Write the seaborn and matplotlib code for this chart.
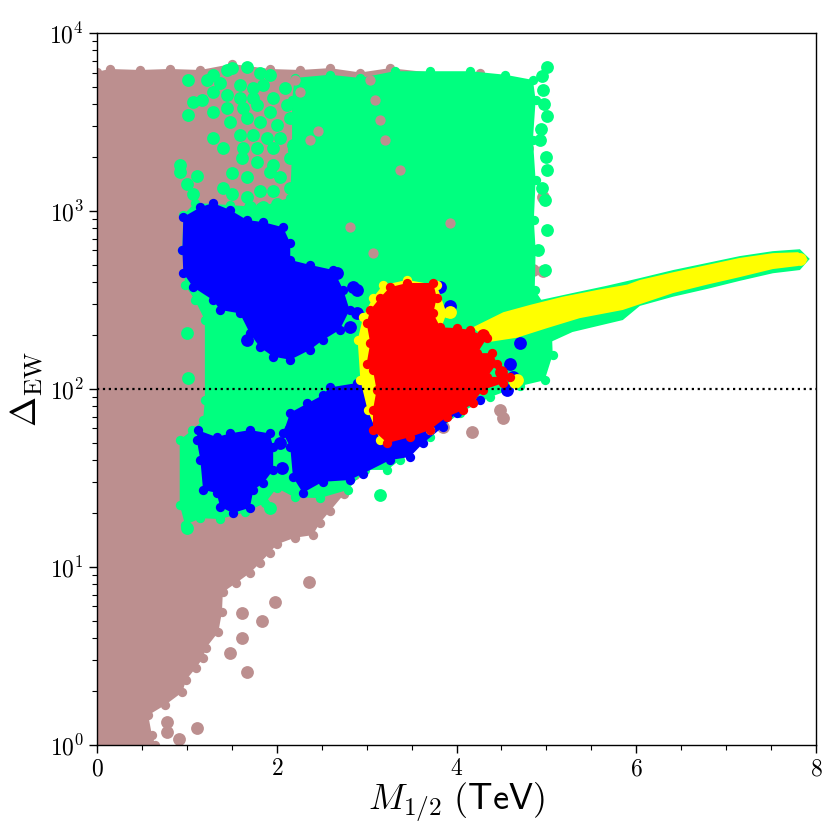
import matplotlib
matplotlib.use("Agg")
import matplotlib.pyplot as plt
import seaborn as sns
from matplotlib.ticker import MultipleLocator, LogLocator, NullFormatter

# populations: outline of each dense cloud (x in TeV, Delta_EW) plus loose points
brown_edge_x = [0.00, 0.65, 0.61, 0.57, 0.76, 0.95, 0.99, 1.10, 1.18, 1.21, 1.35, 1.39, 1.40, 1.55, 1.70,
                1.81, 1.92, 2.00, 2.20, 2.40, 2.48, 2.59, 2.75, 2.87, 3.37, 3.93, 4.15, 4.26, 3.70, 3.26,
                2.93, 2.59, 2.26, 1.92, 1.50, 1.15, 0.81, 0.48, 0.14, 0.00]
brown_edge_y = [1.00, 1.00, 1.14, 1.47, 1.68, 1.98, 2.32, 2.71, 3.08, 3.50, 4.31, 5.58, 7.22, 8.14, 9.24,
                10.5, 12.0, 13.4, 14.6, 15.1, 17.7, 20.6, 25.7, 33.0, 46.0, 72.0, 95.0, 6000, 6000, 6350,
                6000, 6350, 6200, 6280, 6700, 6200, 6280, 6200, 6280, 6050]
brown_pts_x = [0.78, 0.91, 1.11, 0.78, 1.67, 1.61, 1.84, 1.98, 1.61, 1.48, 2.36, 4.17, 3.85, 4.48, 4.52,
               4.96, 4.78, 4.40, 4.76, 4.85, 4.96]
brown_pts_y = [1.35, 1.08, 1.25, 1.18, 2.57, 5.50, 4.97, 6.35, 3.99, 3.29, 8.24, 57.4, 61.3, 76.2, 68.6,
               1200, 2270, 5220, 542, 466, 459]
# brown seen through gaps of the green cloud
brown_gap_x = [2.20, 2.26, 3.04, 3.09, 3.15, 3.20, 2.37, 2.46, 2.81, 3.07, 3.93, 3.37]
brown_gap_y = [5450, 4660, 5450, 4205, 3247, 2506, 2506, 2800, 810, 580, 860, 1700]

green_edge_x = [2.20, 2.59, 2.93, 3.31, 3.70, 4.15, 4.54, 4.85, 4.88, 4.85, 4.88, 4.86, 4.88, 4.87, 4.98,
                5.06, 5.07, 4.98, 4.71, 4.37, 4.04, 3.70, 3.37, 3.23, 2.98, 2.79, 2.48, 2.20, 2.00, 1.87,
                1.65, 1.37, 1.15, 0.98, 0.92, 0.92, 1.06, 1.18, 1.20, 1.20, 1.09, 0.98, 0.95, 0.96, 1.09,
                1.48, 1.81, 2.15, 2.17, 2.17]
green_edge_y = [5590, 5830, 5590, 6100, 6100, 6100, 5830, 5450, 4200, 2510, 1490, 890, 604, 360, 297,
                215, 156, 112, 104, 89.9, 73.6, 53.7, 39.9, 35.1, 35.1, 27.1, 24.4, 24.6, 27.8, 22.9,
                20.3, 18.6, 18.8, 17.2, 22.4, 51.7, 58.8, 66.9, 86.7, 244, 316, 383, 604, 950, 1110,
                1080, 1050, 1190, 2200, 4200]
# loose green points: mixed zone at upper left, strays, ragged right edge
green_pts_x = [1.01, 1.22, 1.29, 1.45, 1.50, 1.67, 1.81, 1.92, 1.85, 1.74, 1.59, 1.37, 1.29, 1.45, 1.59,
               1.74, 1.96, 2.09, 2.11, 1.92, 1.78, 1.62, 1.45, 1.29, 1.07, 1.01, 1.17, 1.48, 1.67, 1.81,
               2.00, 2.15, 1.74, 1.59, 1.89, 2.04, 1.29, 1.40, 1.62, 1.78, 1.96, 2.18, 1.61, 1.78, 1.96,
               2.15, 0.92, 0.92, 1.11, 1.00, 1.07, 1.50, 1.67, 1.92, 2.04, 1.40, 1.50, 1.67, 1.81, 1.96,
               2.15, 1.70, 1.85, 2.00,
               1.00, 1.01, 1.00, 3.15, 1.92,
               5.01, 4.96, 5.01, 4.93, 5.01, 4.98, 5.01, 4.91, 4.98, 4.95, 4.97, 4.94, 5.00, 4.95]
green_pts_y = [5450, 5450, 5810, 6200, 6320, 6430, 5960, 5810, 5100, 4900, 5100, 5240, 4660, 4480, 4300,
               4300, 4300, 4900, 3935, 3590, 3935, 3780, 3780, 3590, 4100, 3450, 4205, 3150, 3315, 3150,
               3030, 3315, 2670, 2670, 2570, 2570, 2570, 2265, 2265, 2265, 2265, 2350, 1990, 1890, 1820,
               1990, 1820, 1665, 1565, 1410, 1240, 1645, 1545, 1665, 1545, 1355, 1240, 1195, 1290, 1290,
               1355, 1050, 1050, 1095,
               206, 115, 16.5, 25.4, 21.4,
               6430, 4790, 3440, 2510, 1700, 1150, 782, 604, 466, 5700, 4000, 2900, 2000, 1350]

band_green_x = [4.93, 5.29, 5.67, 6.04, 6.41, 6.79, 7.15, 7.52, 7.82, 7.93, 7.82, 7.52, 7.15, 6.79, 6.41,
                6.04, 5.85, 5.29, 5.04]
band_green_y = [316, 346, 380, 420, 466, 511, 558, 595, 610, 538, 466, 447, 405, 365, 330,
                293, 244, 209, 183]
band_yellow_x = [4.18, 4.52, 4.82, 5.18, 5.56, 5.90, 6.04, 6.41, 6.79, 7.15, 7.52, 7.80, 7.91, 7.80, 7.52,
                 7.15, 6.79, 6.41, 5.85, 5.37, 5.01, 4.67, 4.37]
band_yellow_y = [222, 270, 297, 330, 360, 386, 410, 453, 498, 545, 580, 587, 531, 491, 472,
                 425, 386, 346, 278, 250, 220, 194, 184]

blue_a_x = [0.96, 1.15, 1.29, 1.48, 1.67, 1.85, 2.07, 2.15, 2.15, 2.37, 2.63, 2.74, 2.81, 2.70, 2.51,
            2.37, 2.15, 1.96, 1.81, 1.70, 1.59, 1.37, 1.29, 1.07, 0.96, 0.95]
blue_a_y = [925, 1050, 1110, 1013, 890, 866, 810, 660, 531, 498, 466, 360, 278, 215, 188,
            166, 146, 152, 172, 206, 266, 278, 316, 373, 448, 604]
blue_b_x = [1.12, 1.33, 1.48, 1.70, 1.92, 1.96, 1.96, 1.85, 1.74, 1.70, 1.51, 1.37, 1.33, 1.18, 1.15, 1.11]
blue_b_y = [58.8, 53.7, 56.3, 58.8, 56.3, 47.3, 35.1, 29.6, 27.1, 21.5, 20.1, 21.8, 26.1, 27.1, 39.9, 51.7]
blue_c_x = [2.07, 2.15, 2.34, 2.51, 2.59, 2.89, 3.04, 3.70, 4.26, 4.00, 3.85, 3.63, 3.48, 3.26, 2.96,
            2.81, 2.51, 2.29, 2.18, 2.15]
blue_c_y = [56.3, 73.6, 83.0, 92.3, 102, 108, 112, 86.7, 86.7, 73.6, 61.3, 49.7, 41.5, 39.9, 33.5,
            30.8, 30.1, 26.1, 32.0, 47.3]
blue_pts_x = [1.67, 2.85, 2.89, 2.81, 2.67, 2.89, 3.82, 3.93, 4.71, 4.59, 4.63, 4.56, 2.04, 2.15, 2.06]
blue_pts_y = [188, 373, 266, 222, 447, 360, 373, 292, 181, 139, 117, 98.7, 49.9, 58.8, 36.0]

yellow_core_x = [2.96, 3.07, 3.18, 3.45, 3.78, 3.89, 3.82, 3.70, 3.15, 3.01, 2.93, 2.90]
yellow_core_y = [254, 326, 383, 410, 383, 266, 215, 58.8, 51.7, 76.2, 112, 188]
yellow_pts_x = [4.67, 3.93, 4.65, 7.82]
yellow_pts_y = [112, 270, 109, 535]

red_edge_x = [3.04, 3.15, 3.26, 3.45, 3.74, 3.78, 3.74, 3.82, 4.00, 4.15, 4.34, 4.23, 4.40, 4.45, 4.34,
              4.59, 4.52, 4.29, 4.18, 4.07, 3.89, 3.70, 3.48, 3.23, 3.07, 3.07, 3.11, 3.07, 3.00, 3.04, 3.00]
red_edge_y = [278, 326, 373, 394, 394, 326, 266, 222, 220, 215, 194, 159, 159, 139, 117,
              117, 108, 98.7, 83.0, 76.2, 69.6, 58.8, 53.6, 49.7, 58.8, 76.2, 98.7, 128, 139, 181, 234]
red_pts_x = [4.29, 4.50]
red_pts_y = [200, 125]

delta_cut = 100

BROWN = "#bc8f8f"
GREEN = "#00ff7f"
BLUE = "#0000ff"
YELLOW = "#ffff00"
RED = "#ff0000"

sns.set_theme(style="ticks", rc={"axes.edgecolor": "black", "xtick.color": "black",
                                 "ytick.color": "black", "text.color": "black",
                                 "axes.labelcolor": "black"})
plt.rcParams["font.family"] = ["serif"]
plt.rcParams["font.serif"] = ["cmr10", "DejaVu Serif"]
plt.rcParams["mathtext.fontset"] = "cm"
plt.rcParams["axes.formatter.use_mathtext"] = True

fig = plt.figure(figsize=(8.4, 8.4), dpi=100)
ax = fig.add_axes([0.1155, 0.1131, 0.856, 0.8476])
ax.set_yscale("log")


def cloud(xs, ys, color, z):
    ax.fill(xs, ys, color=color, lw=0, zorder=z)
    sns.scatterplot(x=xs, y=ys, color=color, s=45, linewidth=0, zorder=z, ax=ax, legend=False)


def dots(xs, ys, color, z, s=85):
    sns.scatterplot(x=xs, y=ys, color=color, s=s, linewidth=0, zorder=z, ax=ax, legend=False)


cloud(brown_edge_x, brown_edge_y, BROWN, 1)
dots(brown_pts_x, brown_pts_y, BROWN, 1)
cloud(green_edge_x, green_edge_y, GREEN, 2)
ax.fill(band_green_x, band_green_y, color=GREEN, lw=0, zorder=2)
dots(brown_gap_x, brown_gap_y, BROWN, 2.1, s=55)
dots(green_pts_x, green_pts_y, GREEN, 2.2)
cloud(blue_a_x, blue_a_y, BLUE, 3)
cloud(blue_b_x, blue_b_y, BLUE, 3)
cloud(blue_c_x, blue_c_y, BLUE, 3)
dots(blue_pts_x, blue_pts_y, BLUE, 3)
ax.fill(band_yellow_x, band_yellow_y, color=YELLOW, lw=0, zorder=4)
cloud(yellow_core_x, yellow_core_y, YELLOW, 4)
dots(yellow_pts_x, yellow_pts_y, YELLOW, 4)
cloud(red_edge_x, red_edge_y, RED, 5)
dots(red_pts_x, red_pts_y, RED, 5)

ax.axhline(delta_cut, color="black", ls=":", lw=1.6, zorder=6)

ax.set_xlim(0, 8)
ax.set_ylim(1, 1e4)
ax.xaxis.set_major_locator(MultipleLocator(2))
ax.xaxis.set_minor_locator(MultipleLocator(0.5))
ax.yaxis.set_major_locator(LogLocator(base=10))
ax.yaxis.set_minor_locator(LogLocator(base=10, subs=range(2, 10)))
ax.yaxis.set_minor_formatter(NullFormatter())
ax.tick_params(which="major", length=6, width=1, labelsize=17, direction="out")
ax.tick_params(which="minor", length=3.5, width=0.8, direction="out")
for sp in ax.spines.values():
    sp.set_linewidth(1.0)
    sp.set_visible(True)

ax.set_xlabel(r"$M_{1/2}\ \mathsf{(TeV)}$", fontsize=26, labelpad=0)
ax.set_ylabel(r"$\Delta_{\rm EW}$", fontsize=26, labelpad=2)

fig.savefig("out.png", dpi=100)
